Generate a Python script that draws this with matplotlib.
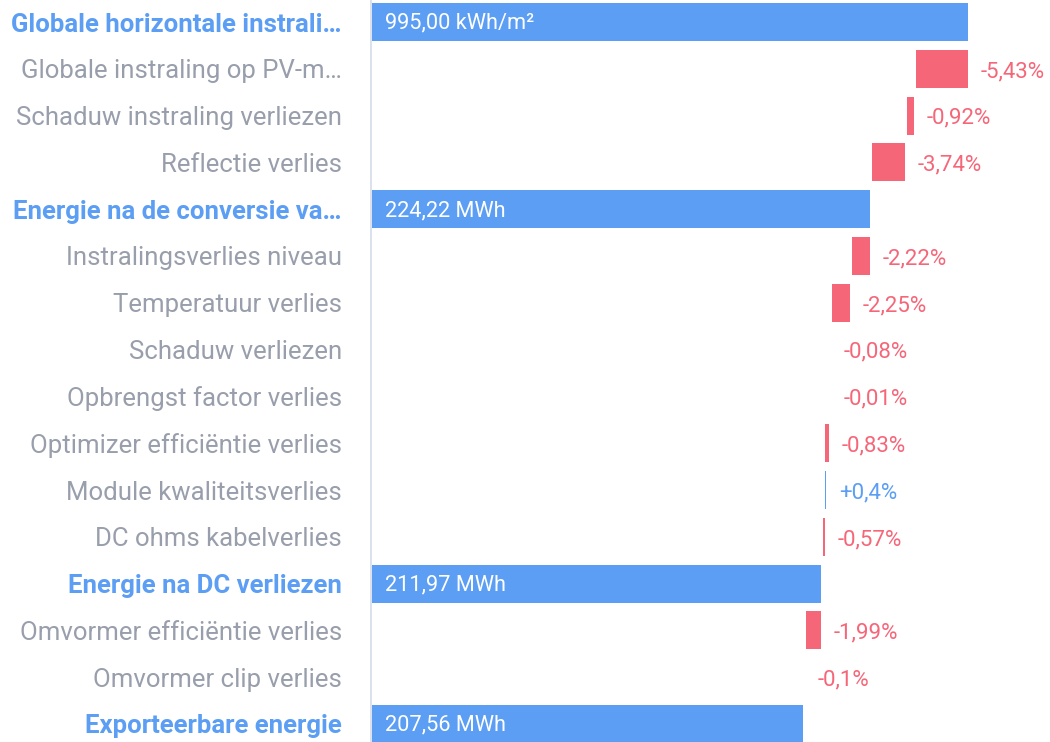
import matplotlib.pyplot as plt

plt.rcParams["font.family"] = ["Roboto", "DejaVu Sans"]

# rows, top to bottom
labels = [
    "Globale horizontale instrali…",
    "Globale instraling op PV-m…",
    "Schaduw instraling verliezen",
    "Reflectie verlies",
    "Energie na de conversie va…",
    "Instralingsverlies niveau",
    "Temperatuur verlies",
    "Schaduw verliezen",
    "Opbrengst factor verlies",
    "Optimizer efficiëntie verlies",
    "Module kwaliteitsverlies",
    "DC ohms kabelverlies",
    "Energie na DC verliezen",
    "Omvormer efficiëntie verlies",
    "Omvormer clip verlies",
    "Exporteerbare energie",
]
value_text = [
    "995,00 kWh/m²", "-5,43%", "-0,92%", "-3,74%",
    "224,22 MWh", "-2,22%", "-2,25%", "-0,08%",
    "-0,01%", "-0,83%", "+0,4%", "-0,57%",
    "211,97 MWh", "-1,99%", "-0,1%", "207,56 MWh",
]
# kind: total / loss / gain
kind = [
    "total", "loss", "loss", "loss",
    "total", "loss", "loss", "loss",
    "loss", "loss", "gain", "loss",
    "total", "loss", "loss", "total",
]
# bar extents, relative scale (first bar = 100)
bar_start = [0, 91.3, 89.8, 83.9, 0, 80.6, 77.2, 77.0, 77.0, 75.95, 75.95, 75.6, 0, 72.9, 72.7, 0]
bar_end = [100, 100, 91.0, 89.4, 83.6, 83.6, 80.2, 77.0, 77.0, 76.7, 76.25, 75.96, 75.4, 75.4, 72.7, 72.4]

BLUE = "#5b9ef4"
RED = "#f66679"
GRAY = "#989eab"

fig = plt.figure(figsize=(10.5, 7.42), dpi=100)
ax = fig.add_axes([371 / 1050, 0, 679 / 1050, 1])

for i, (k, lo, hi, txt) in enumerate(zip(kind, bar_start, bar_end, value_text)):
    color = RED if k == "loss" else BLUE
    if hi > lo:
        ax.barh(i, hi - lo, left=lo, height=0.81, color=color, linewidth=0)
    if k == "total":
        ax.annotate(txt, (lo, i), xytext=(9.5, -1), textcoords="offset points",
                    ha="left", va="center", color="white", fontsize=15.7)
    else:
        ax.annotate(txt, (hi, i), xytext=(9, -2), textcoords="offset points",
                    ha="left", va="center", color=color, fontsize=16)

ax.set_xlim(-0.1, 679 / 5.97)
ax.set_ylim((742 - 22) / 46.8, -22 / 46.8)

ax.set_yticks(range(len(labels)))
ax.set_yticklabels(labels, fontsize=18.5)
for tick, k in zip(ax.get_yticklabels(), kind):
    if k == "total":
        tick.set_color(BLUE)
        tick.set_fontweight("bold")
    else:
        tick.set_color(GRAY)
ax.tick_params(axis="y", length=0, pad=21)
ax.set_xticks([])

for side in ("top", "right", "bottom"):
    ax.spines[side].set_visible(False)
ax.spines["left"].set_color("#d5dde8")
ax.spines["left"].set_linewidth(1.2)

fig.savefig("out.png", dpi=100)
